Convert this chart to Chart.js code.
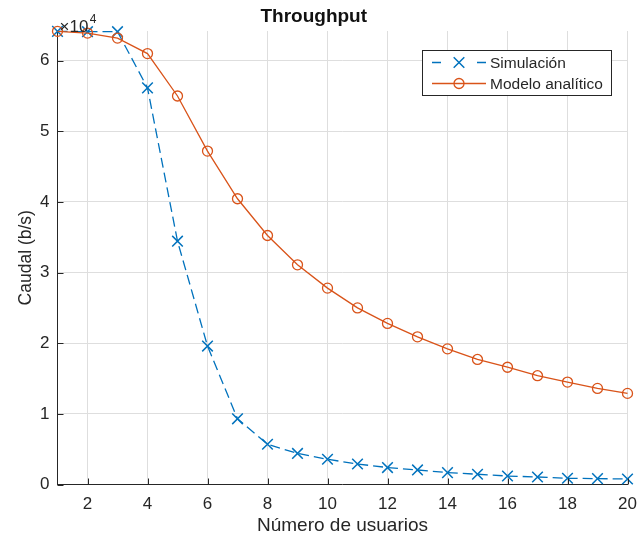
<!DOCTYPE html>
<html>
<head>
<meta charset="utf-8">
<script src="https://cdn.jsdelivr.net/npm/chart.js@4"></script>
<style>
  html, body { margin: 0; padding: 0; background: #fff; }
  #chart { display: block; }
</style>
</head>
<body>
<canvas id="chart" width="642" height="541"></canvas>
<script>
// --- DATA (b/s) ---
const usuarios = [1, 2, 3, 4, 5, 6, 7, 8, 9, 10, 11, 12, 13, 14, 15, 16, 17, 18, 19, 20];
const simulacion = [64150, 64100, 64100, 56150, 34450, 19600, 9300, 5700, 4400, 3570, 2900, 2400, 2060, 1680, 1450, 1200, 1060, 880, 830, 780];
const modeloAnalitico = [64150, 63900, 63200, 61000, 55000, 47200, 40450, 35250, 31100, 27800, 25000, 22800, 20900, 19200, 17700, 16600, 15400, 14500, 13600, 12900];
const xTicks = [2, 4, 6, 8, 10, 12, 14, 16, 18, 20];
const yTicks = [0, 10000, 20000, 30000, 40000, 50000, 60000];
const yMax = 64200;

const TXT = '#262626';
const FONT = "'Liberation Sans', Arial, sans-serif";
Chart.defaults.font.family = FONT;
Chart.defaults.color = TXT;

const toPts = arr => arr.map((v, i) => ({ x: usuarios[i], y: v }));

// --- inward tick marks + x10^4 like the original ---
const tickMarks = {
    id: 'tickMarks',
    afterDatasetsDraw(chart) {
        const { ctx, chartArea: a, scales: { x, y } } = chart;
        ctx.save();
        ctx.strokeStyle = TXT;
        ctx.lineWidth = 1;
        ctx.beginPath();
        x.ticks.forEach(t => {
            const px = Math.round(x.getPixelForValue(t.value)) + 0.5;
            ctx.moveTo(px, a.bottom); ctx.lineTo(px, a.bottom - 6);
        });
        y.ticks.forEach(t => {
            const py = Math.round(y.getPixelForValue(t.value)) + 0.5;
            ctx.moveTo(a.left, py); ctx.lineTo(a.left + 6, py);
        });
        ctx.stroke();
        ctx.fillStyle = TXT;
        ctx.textBaseline = 'alphabetic';
        ctx.font = '17px ' + FONT;
        ctx.fillText('\u00d710', a.left + 2, a.top + 0.5);
        const w = ctx.measureText('\u00d710').width;
        ctx.font = '12px ' + FONT;
        ctx.fillText('4', a.left + 2 + w + 1.5, a.top - 8.5);
        ctx.restore();
    }
};

// --- boxed legend inside the axes ---
const boxLegend = {
    id: 'boxLegend',
    afterDraw(chart) {
        const { ctx } = chart;
        const box = { x: 422.5, y: 50.5, w: 189, h: 45 };
        ctx.save();
        ctx.fillStyle = '#fff';
        ctx.fillRect(box.x, box.y, box.w, box.h);
        ctx.strokeStyle = TXT;
        ctx.lineWidth = 1;
        ctx.strokeRect(box.x, box.y, box.w, box.h);
        chart.data.datasets.forEach((ds, i) => {
            const cy = 62.5 + i * 21;
            ctx.strokeStyle = ds.borderColor;
            ctx.lineWidth = ds.borderWidth;
            ctx.setLineDash(ds.borderDash && ds.borderDash.length ? [9, 36] : []);
            ctx.beginPath();
            ctx.moveTo(432, cy); ctx.lineTo(486, cy);
            ctx.stroke();
            ctx.setLineDash([]);
            ctx.lineWidth = ds.pointBorderWidth;
            ctx.fillStyle = 'rgba(0,0,0,0)';
            Chart.helpers.drawPoint(ctx, { pointStyle: ds.pointStyle, radius: ds.pointRadius, borderWidth: ds.pointBorderWidth, rotation: 0 }, 459, cy);
            ctx.fillStyle = TXT;
            ctx.font = '15.5px ' + FONT;
            ctx.textBaseline = 'middle';
            ctx.fillText(ds.label, 490, cy + 1);
        });
        ctx.restore();
    }
};

new Chart(document.getElementById('chart'), {
    type: 'line',
    data: {
        datasets: [
            {
                label: 'Simulación',
                data: toPts(simulacion),
                borderColor: '#0072BD',
                borderWidth: 1.3,
                borderDash: [10, 5],
                pointStyle: 'crossRot',
                pointRadius: 7.5,
                pointBorderWidth: 1.5,
                pointBorderColor: '#0072BD',
                pointBackgroundColor: 'rgba(0,0,0,0)',
                tension: 0,
                clip: false,
                order: 2
            },
            {
                label: 'Modelo analítico',
                data: toPts(modeloAnalitico),
                borderColor: '#D95319',
                borderWidth: 1.3,
                pointStyle: 'circle',
                pointRadius: 5,
                pointBorderWidth: 1.3,
                pointBorderColor: '#D95319',
                pointBackgroundColor: 'rgba(0,0,0,0)',
                tension: 0,
                clip: false,
                order: 1
            }
        ]
    },
    options: {
        responsive: false,
        animation: false,
        devicePixelRatio: 1,
        layout: { padding: { left: 0, right: 14.5, top: 0, bottom: 0 } },
        plugins: {
            legend: { display: false },
            tooltip: { enabled: false },
            title: {
                display: true,
                text: 'Throughput',
                color: '#111',
                font: { size: 19, weight: 'bold', lineHeight: 1.2 },
                padding: { top: 5.5, bottom: 2.7 }
            }
        },
        scales: {
            x: {
                type: 'linear',
                min: 1,
                max: 20,
                afterBuildTicks: s => { s.ticks = xTicks.map(v => ({ value: v })); },
                afterFit: s => { s.height = 56.5; s.paddingLeft = 0; s.paddingRight = 0; },
                grid: { color: '#dedede', drawTicks: false },
                border: { color: TXT, width: 1 },
                ticks: { font: { size: 17 }, padding: 10, maxRotation: 0, color: TXT },
                title: { display: true, text: 'Número de usuarios', font: { size: 19 }, padding: { top: 0, bottom: 4 }, color: TXT }
            },
            y: {
                type: 'linear',
                min: 0,
                max: yMax,
                afterBuildTicks: s => { s.ticks = yTicks.map(v => ({ value: v })); },
                afterFit: s => { s.width = 57.5; s.paddingTop = 0; s.paddingBottom = 0; },
                grid: { color: '#dedede', drawTicks: false },
                border: { color: TXT, width: 1 },
                ticks: { font: { size: 17 }, padding: 8, color: TXT, callback: v => v / 10000 },
                title: { display: true, text: 'Caudal (b/s)', font: { size: 17.5 }, padding: { top: 16, bottom: 0 }, color: TXT }
            }
        }
    },
    plugins: [tickMarks, boxLegend]
});
</script>
</body>
</html>
